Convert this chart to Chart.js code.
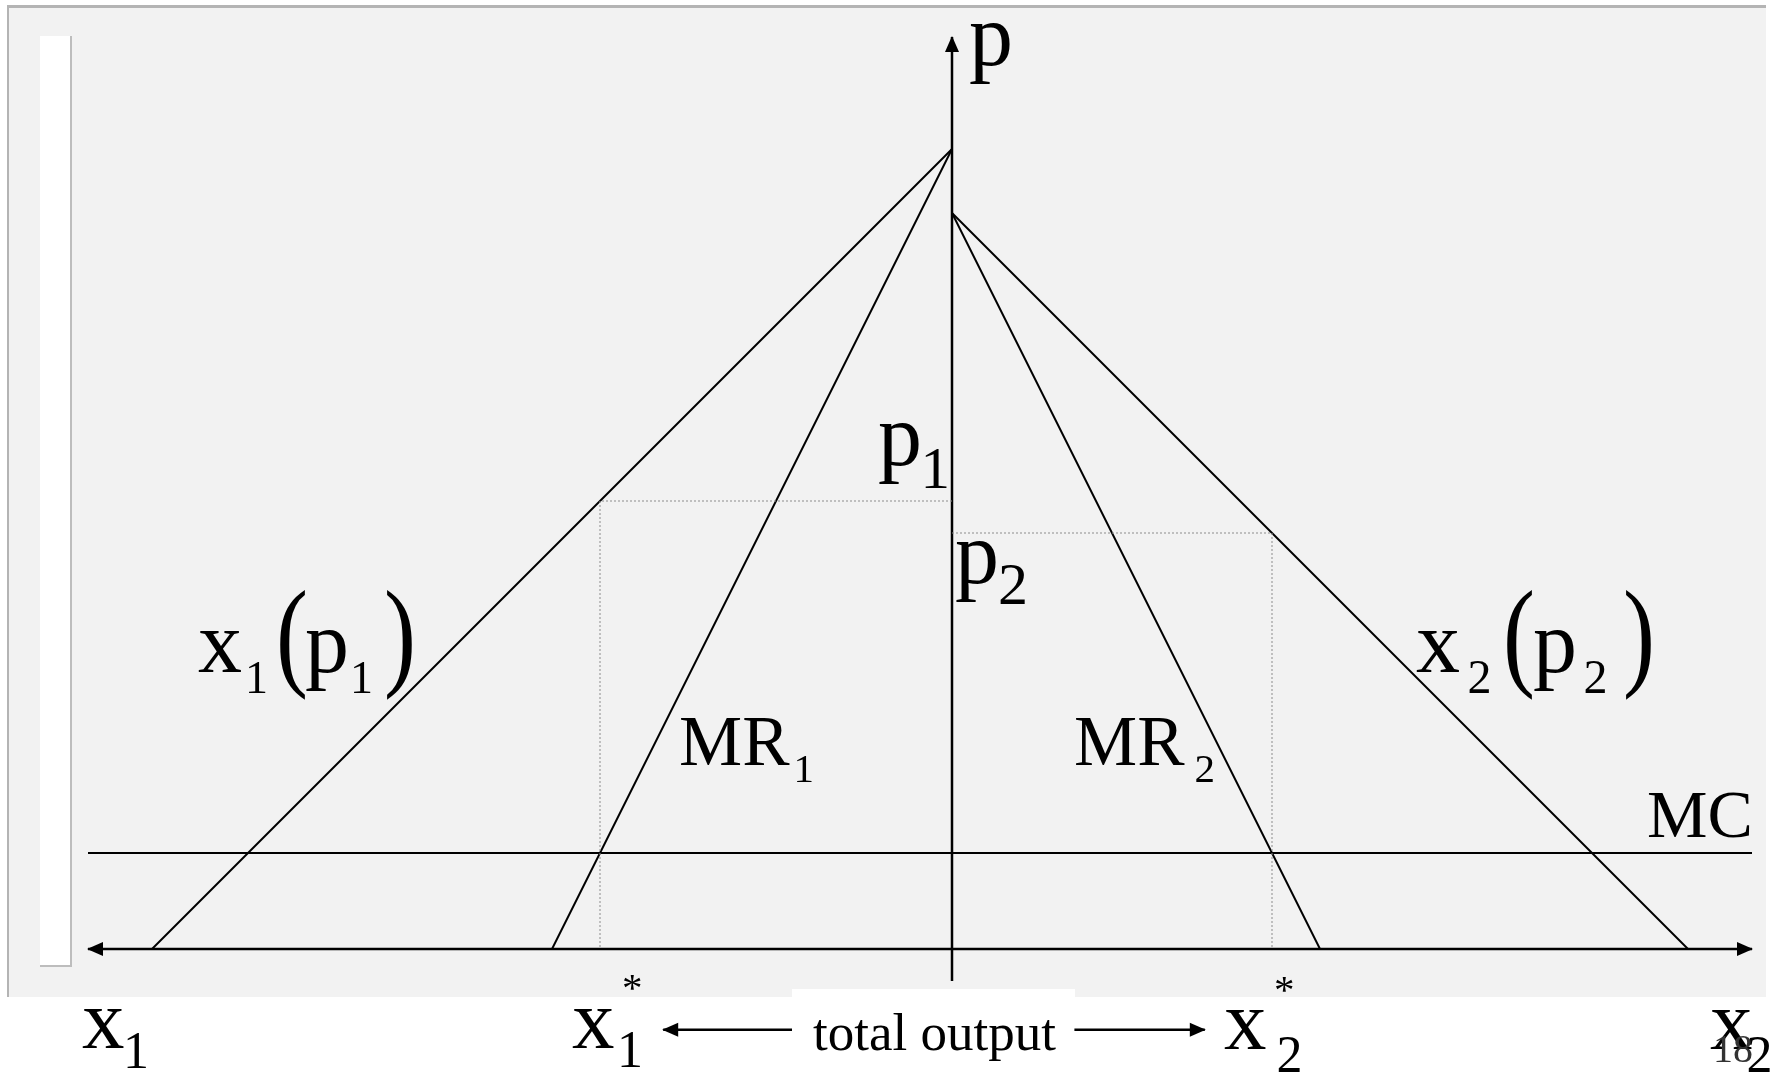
<!DOCTYPE html>
<html>
<head>
<meta charset="utf-8">
<title>Third-degree price discrimination</title>
<script src="https://cdn.jsdelivr.net/npm/chart.js@4.4.1/dist/chart.umd.min.js"></script>
<style>
  html, body { margin: 0; padding: 0; background: #fff; overflow: hidden; }
  #wrap { position: relative; width: 1781px; height: 1074px; }
  .panel { position: absolute; left: 7px; top: 5px; width: 1759px; height: 992px; box-sizing: border-box;
           background: #f2f2f2; border-top: 3px solid #b4b4b4; border-left: 2px solid #b4b4b4; }
  .strip { position: absolute; left: 40px; top: 36px; width: 32px; height: 931px; box-sizing: border-box;
           background: #fff; border-right: 2px solid #bdbdbd; border-bottom: 2px solid #bdbdbd; }
  .gap { position: absolute; left: 792px; top: 989px; width: 283px; height: 12px; background: #fff; }
  #box { position: absolute; left: 0; top: 0; width: 1781px; height: 1074px; }
</style>
</head>
<body>
<div id="wrap">
  <div class="panel"></div>
  <div class="strip"></div>
  <div class="gap"></div>
  <div id="box"><canvas id="chart"></canvas></div>
</div>
<script>
// quantity to the left = market 1, to the right = market 2, price up
const demand1 = [[0, 100], [-100, 0]];
const mr1 = [[0, 100], [-50, 0]];
const demand2 = [[0, 92], [92, 0]];
const mr2 = [[0, 92], [46, 0]];
const mc = [[-108, 12], [100, 12]];
const qAxis = [[-108, 0], [100, 0]];
const pAxis = [[0, -4], [0, 114]];
// optimum: p1 = 56 at x1* = 44, p2 = 52 at x2* = 40
const guide1 = [[0, 56], [-44, 56], [-44, 0]];
const guide2 = [[0, 52], [40, 52], [40, 0]];
const totalLeft = [[-20, -10.1], [-36.1, -10.1]];
const totalRight = [[15.3, -10.1], [31.6, -10.1]];

const pts = (a) => a.map(([x, y]) => ({ x, y }));

// text labels: anchor in chart units, pieces as [text, size, dx, dy, weight, yStretch]
const labels = [
  { at: [2.125, 110.5], parts: [["p", 88, 0, 0]] },
  { at: [-9.25, 60.5], parts: [["p", 88, 0, 0], ["1", 59, 42.5, 23]] },
  { at: [0.375, 45.75], parts: [["p", 88, 0, 0], ["2", 60, 43, 21]] },
  { at: [-94.25, 34.625], parts: [["x", 88, 0, 0], ["1", 46, 47, 21], ["(", 96, 78, 2, "normal", 1.26],
                                  ["p", 88, 107, 0], ["1", 46, 152, 21], [")", 96, 186, 2, "normal", 1.26]] },
  { at: [58, 34.625], parts: [["x", 88, 0, 0], ["2", 48, 51.5, 21], ["(", 96, 87, 2, "normal", 1.26],
                              ["p", 88, 117, 0], ["2", 48, 167.5, 21], [")", 96, 207, 2, "normal", 1.26]] },
  { at: [-34.125, 23], parts: [["MR", 71, 0, 0], ["1", 41, 114.5, 17]] },
  { at: [15.25, 23], parts: [["MR", 71, 0, 0], ["2", 41, 120.5, 17]] },
  { at: [86.875, 14], parts: [["MC", 68, 0, 0]] },
  { at: [-108.75, -12.375], parts: [["x", 85, 0, 0], ["1", 52, 41, 20]] },
  { at: [-47.5, -12.375], parts: [["x", 85, 0, 0], ["1", 52, 45, 19], ["*", 41, 50, -47]] },
  { at: [34, -12.5], parts: [["x", 85, 0, 0], ["2", 52, 52.5, 23], ["*", 41, 50, -46]] },
  { at: [94.75, -12.5], parts: [["x", 85, 0, 0], ["2", 52, 36.5, 23]] },
  { at: [95.125, -14.125], color: "#333", parts: [["18", 40, 0, 0]] },
  { at: [-17.375, -12.625], parts: [["total output", 53, 0, 0]] },
];

const solid = (data, extra) => Object.assign({
  data: pts(data), showLine: true, borderColor: "#000", borderWidth: 2,
  pointRadius: 0, fill: false,
}, extra);

const dotted = (data) => solid(data, { borderColor: "#8c8c8c", borderWidth: 1, borderDash: [2, 2] });

const arrowPlugin = {
  id: "arrows",
  afterDatasetsDraw(chart) {
    const ctx = chart.ctx;
    chart.data.datasets.forEach((ds, i) => {
      if (!ds.arrows) return;
      const el = chart.getDatasetMeta(i).data;
      const ends = [];
      if (ds.arrows.includes("end")) ends.push([el[el.length - 2], el[el.length - 1]]);
      if (ds.arrows.includes("start")) ends.push([el[1], el[0]]);
      ends.forEach(([a, b]) => {
        const ang = Math.atan2(b.y - a.y, b.x - a.x);
        ctx.save();
        ctx.translate(b.x, b.y);
        ctx.rotate(ang);
        ctx.beginPath();
        ctx.moveTo(1, 0);
        ctx.lineTo(-15, -7);
        ctx.lineTo(-15, 7);
        ctx.closePath();
        ctx.fillStyle = "#000";
        ctx.fill();
        ctx.restore();
      });
    });
  },
};

const textPlugin = {
  id: "texts",
  afterDraw(chart) {
    const { ctx } = chart;
    const sx = chart.scales.x, sy = chart.scales.y;
    ctx.save();
    ctx.textAlign = "left";
    ctx.textBaseline = "alphabetic";
    labels.forEach((l) => {
      const px = sx.getPixelForValue(l.at[0]);
      const py = sy.getPixelForValue(l.at[1]);
      ctx.fillStyle = l.color || "#000";
      l.parts.forEach(([t, size, dx, dy, weight, stretch]) => {
        ctx.font = `${weight || "normal"} ${size}px "Liberation Serif", "Times New Roman", serif`;
        ctx.save();
        ctx.translate(px + dx, py + dy);
        ctx.scale(1, stretch || 1);
        ctx.fillText(t, 0, 0);
        ctx.restore();
      });
    });
    ctx.restore();
  },
};

new Chart(document.getElementById("chart"), {
  type: "scatter",
  data: {
    datasets: [
      dotted(guide1),
      dotted(guide2),
      solid(mc),
      solid(demand1),
      solid(mr1),
      solid(demand2),
      solid(mr2),
      solid(qAxis, { borderWidth: 2.5, arrows: ["start", "end"] }),
      solid(pAxis, { borderWidth: 2.5, arrows: ["end"] }),
      solid(totalLeft, { borderWidth: 2.5, arrows: ["end"] }),
      solid(totalRight, { borderWidth: 2.5, arrows: ["end"] }),
    ],
  },
  options: {
    animation: false,
    responsive: true,
    maintainAspectRatio: false,
    layout: { padding: 0 },
    plugins: { legend: { display: false }, tooltip: { enabled: false } },
    elements: { line: { tension: 0 } },
    scales: {
      x: { type: "linear", min: -119, max: 103.625, display: false },
      y: { type: "linear", min: -15.625, max: 118.625, display: false },
    },
  },
  plugins: [arrowPlugin, textPlugin],
});
</script>
</body>
</html>
